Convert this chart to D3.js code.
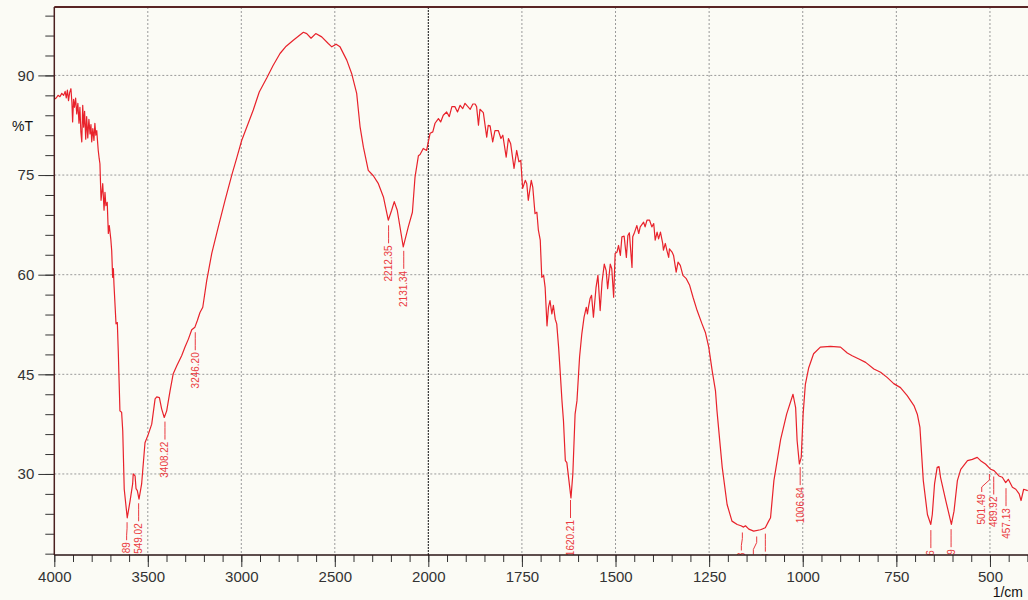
<!DOCTYPE html>
<html>
<head>
<meta charset="utf-8">
<script src="https://cdn.jsdelivr.net/npm/d3@7/dist/d3.min.js"></script>
<style>
    body { margin: 0; background: #fbfbf5; }
    svg { display: block; font-family: "Liberation Sans", Arial, sans-serif; }
</style>
</head>
<body>
<script>
// spectrum (wavenumber 1/cm, %T)
var wavenumber = [4000, 3990, 3980, 3970, 3960, 3950, 3942, 3936, 3930, 3924, 3918, 3911, 3906, 3902, 3897, 3892, 3886, 3880, 3874, 3868,
    3863, 3858, 3853, 3848, 3843, 3838, 3832, 3827, 3821, 3815, 3809, 3804, 3800, 3794, 3788, 3783, 3778, 3773, 3768, 3765,
    3760, 3756, 3750, 3741, 3734, 3729, 3724, 3717, 3711, 3706, 3698, 3693, 3688, 3684, 3681, 3670, 3663, 3658, 3649, 3640,
    3634, 3626, 3610, 3595, 3581, 3578, 3568, 3563, 3556, 3547, 3533, 3515, 3497, 3479, 3461, 3452, 3438, 3426, 3412, 3399,
    3381, 3364, 3345, 3319, 3301, 3283, 3265, 3248, 3235, 3221, 3206, 3185, 3158, 3123, 3087, 3051, 3025, 2998, 2971, 2936,
    2904, 2864, 2830, 2793, 2760, 2722, 2690, 2668, 2650, 2627, 2602, 2570, 2535, 2516, 2493, 2472, 2436, 2410, 2383, 2365,
    2347, 2321, 2294, 2267, 2240, 2214, 2196, 2182, 2166, 2134, 2107, 2085, 2071, 2053, 2044, 2027, 2009, 2000,
    1995, 1988, 1982, 1973, 1967, 1960, 1951, 1944, 1937, 1929, 1922, 1915, 1908, 1902, 1896, 1888, 1881, 1875, 1871, 1866,
    1862, 1853, 1844, 1840, 1835, 1828, 1822, 1813, 1806, 1801, 1792, 1786, 1780, 1771, 1764, 1758, 1753, 1748, 1741, 1737,
    1733, 1725, 1721, 1715, 1710, 1706, 1701, 1697, 1692, 1688, 1683, 1679, 1675, 1670, 1666, 1661, 1657, 1652, 1648, 1643,
    1639, 1634, 1630, 1619, 1614, 1608, 1603, 1596, 1590, 1584, 1578, 1575, 1572, 1568, 1564, 1559, 1552, 1547, 1541, 1536,
    1530, 1525, 1521, 1514, 1510, 1505, 1501, 1496, 1492, 1487, 1483, 1477, 1471, 1467, 1463, 1456, 1454, 1449, 1443, 1438,
    1434, 1425, 1421, 1416, 1409, 1403, 1398, 1394, 1389, 1385, 1380, 1374, 1372, 1367, 1363, 1358, 1356, 1349, 1345, 1338,
    1333, 1327, 1320, 1311, 1302, 1293, 1282, 1269, 1260, 1251, 1242, 1233, 1229, 1220, 1215, 1202, 1189, 1175, 1165, 1158,
    1153, 1144, 1131, 1113, 1100, 1091, 1086, 1077, 1059, 1043, 1026, 1019, 1015, 1009, 1004, 999, 993, 984, 971, 953,
    926, 899, 881, 868, 850, 832, 810, 792, 774, 757, 739, 721, 703, 694, 687, 678, 667, 658, 654, 648,
    641, 636, 632, 618, 603, 596, 587, 578, 560, 547, 534, 525, 512, 498, 489, 476, 467, 458, 451, 440,
    431, 422, 417, 410, 399];
var transmittance = [86.4, 86.6, 87.0, 86.8, 87.3, 87.0, 87.6, 86.6, 87.8, 86.2, 87.4, 88.0, 86.0, 83.0, 86.4, 85.2, 86.6, 84.2, 85.8, 82.8,
    85.2, 81.5, 80.0, 85.5, 82.2, 84.6, 80.4, 83.8, 80.6, 83.4, 81.2, 82.6, 80.0, 82.0, 80.2, 82.8, 81.0, 81.7, 79.8, 78.7,
    77.5, 76.7, 71.2, 73.7, 69.7, 72.4, 70.4, 70.9, 66.2, 67.4, 65.4, 63.6, 59.6, 60.9, 58.6, 52.6, 52.8, 48.6, 39.5, 39.3,
    36.5, 27.7, 23.4, 25.9, 28.5, 30.0, 29.7, 27.8, 27.5, 26.2, 28.5, 34.7, 36.0, 37.5, 41.3, 41.6, 41.5, 39.8, 38.5, 39.5,
    42.5, 45.1, 46.3, 47.8, 49.1, 50.3, 51.7, 52.1, 53.1, 54.3, 55.1, 59.1, 63.2, 67.2, 71.2, 75.0, 77.5, 80.2, 82.2, 84.8,
    87.5, 89.6, 91.5, 93.3, 94.4, 95.3, 96.0, 96.5, 96.3, 95.6, 96.3, 95.8, 94.8, 94.3, 94.7, 94.3, 92.3, 90.3, 87.3, 82.3,
    79.2, 75.7, 74.9, 73.7, 71.7, 68.2, 69.7, 71.0, 69.7, 64.2, 67.2, 69.4, 74.7, 77.9, 78.1, 79.0, 78.7, 80.0,
    81.3, 81.5, 82.8, 83.5, 83.0, 84.0, 84.5, 83.8, 85.3, 85.3, 84.5, 85.5, 85.0, 85.8, 85.4, 84.9, 85.7, 85.7, 85.3, 82.5,
    84.9, 84.4, 80.7, 82.5, 82.4, 80.0, 81.7, 81.7, 80.5, 81.0, 77.7, 80.5, 79.7, 76.0, 78.7, 77.0, 77.2, 73.0, 74.2, 73.7,
    71.2, 74.2, 73.2, 69.2, 69.4, 66.7, 65.2, 59.6, 59.9, 58.1, 52.3, 55.1, 56.1, 54.1, 55.4, 53.3, 52.6, 49.1, 45.6, 41.0,
    38.0, 32.0, 31.7, 26.4, 30.0, 39.0, 41.0, 47.6, 51.1, 53.6, 55.1, 54.1, 55.2, 56.4, 56.9, 53.6, 58.1, 59.9, 54.6, 58.9,
    61.6, 60.6, 57.9, 61.6, 60.9, 56.6, 63.2, 63.4, 64.4, 62.9, 65.7, 65.8, 62.6, 65.9, 66.3, 61.1, 65.7, 66.4, 67.4, 66.2,
    67.2, 67.9, 67.2, 68.2, 68.2, 67.2, 67.7, 65.2, 66.4, 65.4, 66.4, 64.7, 63.7, 64.7, 63.7, 62.6, 63.9, 63.4, 62.9, 60.4,
    61.9, 61.4, 59.9, 59.4, 58.4, 56.6, 54.6, 52.6, 51.3, 49.1, 45.6, 42.5, 39.5, 34.0, 31.0, 25.4, 22.9, 22.4, 22.2, 22.0,
    22.2, 21.7, 21.4, 21.6, 21.9, 22.9, 23.4, 29.0, 35.2, 39.0, 42.0, 40.0, 35.0, 31.5, 32.5, 39.0, 43.5, 46.0, 48.1, 49.1,
    49.2, 49.1, 48.2, 47.8, 47.3, 46.8, 45.8, 45.3, 44.5, 43.6, 43.0, 41.8, 40.3, 39.0, 37.0, 29.0, 23.9, 22.4, 23.9, 28.5,
    31.0, 31.1, 29.5, 26.0, 22.4, 24.4, 29.0, 30.7, 32.0, 32.2, 32.5, 32.0, 31.5, 30.7, 30.5, 29.7, 29.5, 28.7, 29.2, 28.0,
    27.7, 27.0, 26.0, 27.7, 27.5];

// peak picks printed on the chart
var peakLabels = ["3610.89", "3549.02", "3408.22", "3246.20", "2212.35", "2131.34", "1620.21", "1161.23", "1122.97", "1099.83",
    "1006.84", "657.86", "603.79", "501.49", "489.92", "457.13"];

var majorX = [4000, 3500, 3000, 2500, 2000, 1750, 1500, 1250, 1000, 750, 500];
var majorY = [30, 45, 60, 75, 90];

var width = 1028, height = 600;
var plotLeft = 54.3, plotTop = 7, plotBottom = 555, plotRight = 1028;

var svg = d3.select('body').append('svg').attr('width', width).attr('height', height);

// x is split: 4000-2000 on the left half, 2000-400 stretched on the right
var x = d3.scaleLinear().domain([4000, 2000, 400]).range([plotLeft, 428.3, 1027.4]);
var y = d3.scaleLinear().domain([17.8, 100.3]).range([plotBottom, plotTop]);

svg.append('rect').attr('width', width).attr('height', height).attr('fill', '#fbfbf5');

svg.append('clipPath').attr('id', 'plotclip').append('rect')
    .attr('x', plotLeft).attr('y', plotTop)
    .attr('width', plotRight - plotLeft).attr('height', plotBottom - plotTop);

// grid
var grid = svg.append('g');
grid.selectAll('.vgrid').data(majorX.filter(function (d) { return d != 4000; })).enter()
    .append('line')
    .attr('x1', function (d) { return x(d); })
    .attr('x2', function (d) { return x(d); })
    .attr('y1', plotTop).attr('y2', plotBottom)
    .attr('stroke', function (d) { return d == 2000 ? '#111' : '#9a9a9a'; })
    .attr('stroke-width', 1)
    .style('stroke-dasharray', function (d) { return d == 2000 ? '2,1' : '2,2'; });
grid.selectAll('.hgrid').data(majorY).enter()
    .append('line')
    .attr('x1', plotLeft).attr('x2', plotRight)
    .attr('y1', function (d) { return y(d); })
    .attr('y2', function (d) { return y(d); })
    .attr('stroke', '#9a9a9a')
    .attr('stroke-width', 1)
    .style('stroke-dasharray', '2,2');

// spectrum
var points = wavenumber.map(function (w, i) { return [w, transmittance[i]]; });
svg.append('path')
    .datum(points)
    .attr('clip-path', 'url(#plotclip)')
    .attr('fill', 'none')
    .attr('stroke', '#e8222b')
    .attr('stroke-width', 1.2)
    .attr('stroke-linejoin', 'round')
    .attr('d', d3.line()
        .x(function (d) { return x(d[0]); })
        .y(function (d) { return y(d[1]); }));

// peak label helpers
function valueAt(w) {
    for (var i = 0; i < wavenumber.length - 1; i++) {
        if (w <= wavenumber[i] && w >= wavenumber[i + 1]) {
            var t = (wavenumber[i] - w) / (wavenumber[i] - wavenumber[i + 1]);
            return transmittance[i] + t * (transmittance[i + 1] - transmittance[i]);
        }
    }
    return transmittance[transmittance.length - 1];
}

var peaks = peakLabels.map(function (s) {
    var w = +s;
    return {label: s, px: x(w), py: y(valueAt(w))};
});
peaks.forEach(function (p) { p.tx = p.px; });
// push crowded labels apart, right to left
for (var i = peaks.length - 2; i >= 0; i--) {
    if (peaks[i + 1].tx - peaks[i].tx < 12) peaks[i].tx = peaks[i + 1].tx - 12;
}

var pk = svg.append('g').attr('clip-path', 'url(#plotclip)');
pk.selectAll('.leader').data(peaks).enter().append('path')
    .attr('fill', 'none')
    .attr('stroke', '#ea3a40')
    .attr('stroke-width', 1)
    .attr('d', function (d) {
        return 'M' + d.px + ',' + (d.py + 6) + 'L' + d.px + ',' + (d.py + 12) +
            'L' + d.tx + ',' + (d.py + 19) + 'L' + d.tx + ',' + (d.py + 24);
    });
pk.selectAll('.plabel').data(peaks).enter().append('text')
    .attr('transform', function (d) { return 'translate(' + d.tx + ',' + (d.py + 26) + ') rotate(-90)'; })
    .attr('text-anchor', 'end')
    .attr('dy', '0.35em')
    .attr('fill', '#ea3a40')
    .style('font-size', '10px')
    .text(function (d) { return d.label; });

// axes
var minorX = d3.range(4000, 2000, -100).concat(d3.range(2000, 399, -50));
var minorY = d3.range(18, 100, 3);

var bottomAxis = svg.append('g').attr('transform', 'translate(0,' + plotBottom + ')');
bottomAxis.append('g')
    .call(d3.axisBottom(x).tickValues(minorX).tickSize(7).tickFormat(''));
bottomAxis.append('g')
    .call(d3.axisBottom(x).tickValues(majorX).tickSize(12).tickPadding(4).tickFormat(d3.format('d')));
bottomAxis.selectAll('.domain').remove();
bottomAxis.selectAll('line').attr('stroke', '#333');
bottomAxis.selectAll('text').attr('fill', '#333').style('font-size', '15px');

var leftAxis = svg.append('g').attr('transform', 'translate(' + plotLeft + ',0)');
leftAxis.append('g')
    .call(d3.axisLeft(y).tickValues(minorY).tickSize(9).tickFormat(''));
leftAxis.append('g')
    .call(d3.axisLeft(y).tickValues(majorY).tickSize(16).tickPadding(4).tickFormat(d3.format('d')));
leftAxis.selectAll('.domain').remove();
leftAxis.selectAll('line').attr('stroke', '#333');
leftAxis.selectAll('text').attr('fill', '#333').style('font-size', '15px');

// frame
svg.append('line').attr('x1', plotLeft).attr('x2', plotRight).attr('y1', plotTop).attr('y2', plotTop)
    .attr('stroke', '#5a2525').attr('stroke-width', 2);
svg.append('line').attr('x1', plotLeft).attr('x2', plotLeft).attr('y1', plotTop).attr('y2', plotBottom)
    .attr('stroke', '#4a2020').attr('stroke-width', 1.5);
svg.append('line').attr('x1', plotLeft).attr('x2', plotRight).attr('y1', plotBottom).attr('y2', plotBottom)
    .attr('stroke', '#2a1515').attr('stroke-width', 1.5);

svg.append('text').attr('x', 12).attr('y', 131).text('%T')
    .attr('fill', '#111').style('font-size', '14px');
svg.append('text').attr('x', 1023).attr('y', 597).attr('text-anchor', 'end').text('1/cm')
    .attr('fill', '#111').style('font-size', '14px');
</script>
</body>
</html>
